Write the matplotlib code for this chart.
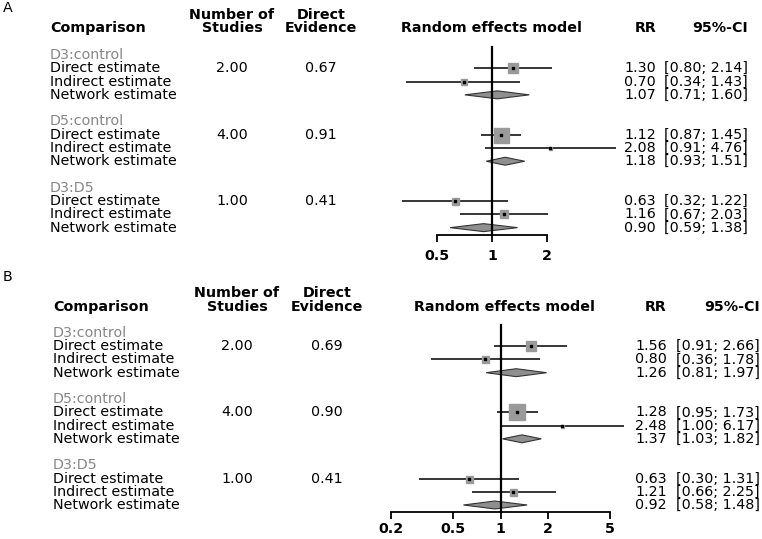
import matplotlib
matplotlib.use("Agg")
import matplotlib.pyplot as plt
from matplotlib.transforms import blended_transform_factory
import numpy as np

plt.rcParams['font.family'] = ['DejaVu Sans']

# ---------------- data ----------------
groups = ["D3:control", "D5:control", "D3:D5"]
row_labels = ["Direct estimate", "Indirect estimate", "Network estimate"]

rr_A = [1.30, 0.70, 1.07, 1.12, 2.08, 1.18, 0.63, 1.16, 0.90]
lo_A = [0.80, 0.34, 0.71, 0.87, 0.91, 0.93, 0.32, 0.67, 0.59]
hi_A = [2.14, 1.43, 1.60, 1.45, 4.76, 1.51, 1.22, 2.03, 1.38]
studies_A = [2.00, 4.00, 1.00]
evidence_A = [0.67, 0.91, 0.41]
box_A = [10, 6, 15, 3, 7, 8]          # relative box sizes (direct, indirect) per group

rr_B = [1.56, 0.80, 1.26, 1.28, 2.48, 1.37, 0.63, 1.21, 0.92]
lo_B = [0.91, 0.36, 0.81, 0.95, 1.00, 1.03, 0.30, 0.66, 0.58]
hi_B = [2.66, 1.78, 1.97, 1.73, 6.17, 1.82, 1.31, 2.25, 1.48]
studies_B = [2.00, 4.00, 1.00]
evidence_B = [0.69, 0.90, 0.41]
box_B = [10, 7, 16, 3, 7, 7]

ticks_A = [0.5, 1, 2]
ticks_B = [0.2, 0.5, 1, 2, 5]
tick_labels_A = ["0.5", "1", "2"]
tick_labels_B = ["0.2", "0.5", "1", "2", "5"]

# ---------------- layout ----------------
W, H = 762, 539
fig = plt.figure(figsize=(W / 100, H / 100), dpi=100)

FS = 10.3
GREY = '#878787'


def panel(letter, letter_xy, rr, lo, hi, studies, evidence, boxes, ticks, tlabels,
          row0, step, axis_px, xpx, xlim, col_left, col_stud, col_evid, col_rem,
          col_rr, col_ci, pad):
    top_row = -0.6
    bottom_row = (axis_px - row0) / step
    y_top = row0 + top_row * step
    ax = fig.add_axes([xpx[0] / W, 1 - axis_px / H, (xpx[1] - xpx[0]) / W,
                       (axis_px - y_top) / H])
    ax.set_xscale('log')
    ax.set_xlim(*xlim)
    ax.set_ylim(bottom_row, top_row)
    for s in ['top', 'left', 'right']:
        ax.spines[s].set_visible(False)
    ax.spines['bottom'].set_linewidth(1.3)
    ax.set_yticks([])
    ax.set_xticks(ticks)
    ax.set_xticklabels(tlabels, fontsize=FS, fontweight='bold')
    ax.xaxis.set_minor_locator(matplotlib.ticker.NullLocator())
    ax.tick_params(axis='x', direction='out', length=5, width=1.3, pad=pad)
    ax.patch.set_alpha(0)

    ax.axvline(1, color='black', lw=1.6, zorder=6, clip_on=False)

    tr = blended_transform_factory(fig.transFigure, ax.transData)

    def fx(px):
        return px / W

    # headers
    hkw = dict(transform=tr, fontsize=FS, fontweight='bold', va='center')
    ax.text(fx(col_left), -2, "Comparison", ha='left', **hkw)
    ax.text(fx(col_stud), -3, "Number of", ha='center', **hkw)
    ax.text(fx(col_stud), -2, "Studies", ha='center', **hkw)
    ax.text(fx(col_evid), -3, "Direct", ha='center', **hkw)
    ax.text(fx(col_evid), -2, "Evidence", ha='center', **hkw)
    ax.text(fx(col_rem), -2, "Random effects model", ha='center', **hkw)
    ax.text(fx(col_rr), -2, "RR", ha='right', **hkw)
    ax.text(fx(col_ci), -2, "95%-CI", ha='right', **hkw)

    tkw = dict(transform=tr, fontsize=FS, va='center')
    for g, gname in enumerate(groups):
        base = g * 5
        ax.text(fx(col_left), base, gname, ha='left', color=GREY, **tkw)
        ax.text(fx(col_stud), base + 1, f"{studies[g]:.2f}", ha='center', **tkw)
        ax.text(fx(col_evid), base + 1, f"{evidence[g]:.2f}", ha='center', **tkw)
        for k in range(3):
            i = g * 3 + k
            y = base + 1 + k
            ax.text(fx(col_left), y, row_labels[k], ha='left', **tkw)
            ax.text(fx(col_rr), y, f"{rr[i]:.2f}", ha='right', **tkw)
            ax.text(fx(col_ci), y, f"[{lo[i]:.2f}; {hi[i]:.2f}]", ha='right', **tkw)
            if k < 2:
                ax.plot([lo[i], hi[i]], [y, y], color='black', lw=1.1,
                        zorder=2, clip_on=False, solid_capstyle='butt')
                b = boxes[g * 2 + k]
                ax.plot([rr[i]], [y], marker='s', ms=b * 0.72, color='#9a9a9a',
                        mec='#9a9a9a', zorder=3, clip_on=False)
                ax.plot([rr[i]], [y], marker='s', ms=1.8, color='black',
                        zorder=4, clip_on=False)
            else:
                h = 0.3
                ax.fill([lo[i], rr[i], hi[i], rr[i]], [y, y - h, y, y + h],
                        facecolor='#8f8f8f', edgecolor='#333333', lw=0.8,
                        zorder=3, clip_on=False)

    fig.text(letter_xy[0] / W, 1 - letter_xy[1] / H, letter, fontsize=FS,
             ha='left', va='center')


panel("A", (3, 8), rr_A, lo_A, hi_A, studies_A, evidence_A, box_A,
      ticks_A, tick_labels_A,
      row0=55, step=13.28, axis_px=235, xpx=(437, 547), xlim=(0.5, 2),
      col_left=50, col_stud=232, col_evid=321, col_rem=491, col_rr=656, col_ci=748,
      pad=5)

panel("B", (3, 277), rr_B, lo_B, hi_B, studies_B, evidence_B, box_B,
      ticks_B, tick_labels_B,
      row0=333, step=13.23, axis_px=512, xpx=(391, 610), xlim=(0.2, 5),
      col_left=53, col_stud=237, col_evid=327, col_rem=504, col_rr=667, col_ci=760,
      pad=2)

fig.savefig("out.png", dpi=100)
